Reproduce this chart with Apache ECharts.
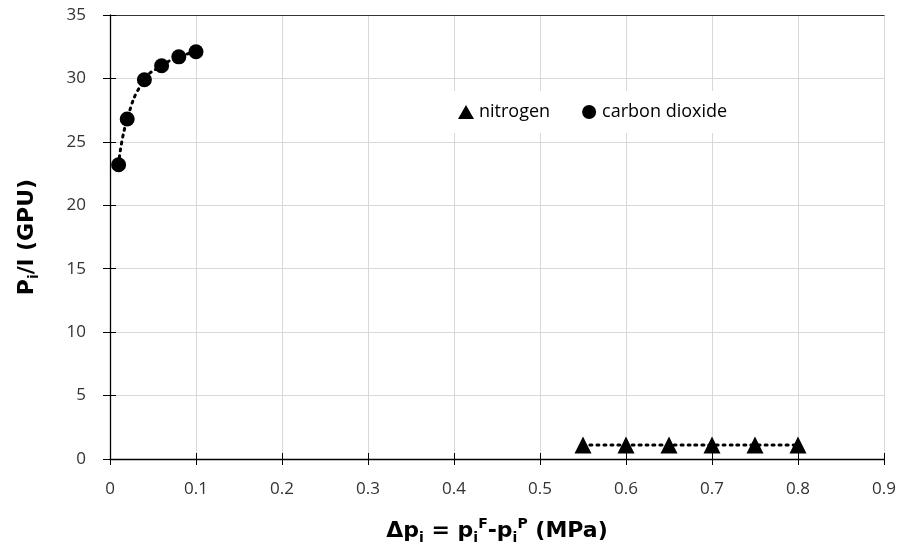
<!DOCTYPE html>
<html><head><meta charset="utf-8">
<script src="https://cdn.jsdelivr.net/npm/echarts@6/dist/echarts.min.js"></script>
<style>html,body{margin:0;padding:0;background:#fff}#c{width:901px;height:544px}</style>
</head><body><div id="c"></div>
<script>
const co2X = [0.01, 0.02, 0.04, 0.06, 0.08, 0.10];
const co2Y = [23.2, 26.8, 29.9, 31.0, 31.7, 32.1];
const n2X = [0.55, 0.60, 0.65, 0.70, 0.75, 0.80];
const n2Y = [1.1, 1.1, 1.1, 1.1, 1.1, 1.1];
const xTicks = [0, 0.1, 0.2, 0.3, 0.4, 0.5, 0.6, 0.7, 0.8, 0.9];
const yTicks = [0, 5, 10, 15, 20, 25, 30, 35];

const font = '"Open Sans", sans-serif';
const tfont = '"DejaVu Sans", sans-serif';
const chart = echarts.init(document.getElementById('c'));
const pair = (xs, ys) => xs.map((x, i) => [x, ys[i]]);
const richT = {
  b: {fontSize: 22, fontWeight: 'bold', color: '#000', fontFamily: tfont, lineHeight: 28, verticalAlign: 'middle'},
  s: {fontSize: 14, fontWeight: 'bold', color: '#000', fontFamily: tfont, lineHeight: 15, verticalAlign: 'bottom'},
  p: {fontSize: 14, fontWeight: 'bold', color: '#000', fontFamily: tfont, lineHeight: 15, verticalAlign: 'top'}
};
chart.setOption({
  animation: false,
  textStyle: {fontFamily: font},
  grid: {left: 110, right: 17, top: 15, bottom: 85, containLabel: false, outerBoundsMode: 'none'},
  legend: {
    left: 448, top: 91, itemGap: 32, itemWidth: 16, itemHeight: 14,
    padding: [12, 10], backgroundColor: '#fff',
    textStyle: {fontSize: 18, color: '#000', fontFamily: font},
    data: [{name: 'nitrogen', icon: 'triangle'}, {name: 'carbon dioxide', icon: 'circle'}]
  },
  xAxis: [{
    type: 'value', min: 0, max: 0.9, interval: 0.1,
    axisLine: {lineStyle: {color: '#000', width: 1.3}},
    axisTick: {show: true, length: 6, lineStyle: {color: '#000'}},
    axisLabel: {fontSize: 17, color: '#333', margin: 22, fontFamily: font,
      formatter: v => xTicks.includes(Math.round(v*10)/10) ? String(Math.round(v*10)/10) : ''},
    splitLine: {show: true, lineStyle: {color: '#d9d9d9'}},
    name: '{b|Δp}{s|i}{b| = p}{s|i}{p|F}{b|-p}{s|i}{p|P}{b| (MPa)}',
    nameLocation: 'middle', nameGap: 58,
    nameTextStyle: {rich: richT}
  }, {
    type: 'value', min: 0, max: 0.9, interval: 0.1, position: 'bottom',
    axisLine: {show: false}, axisLabel: {show: false}, splitLine: {show: false},
    axisTick: {show: true, inside: true, length: 6, lineStyle: {color: '#000'}}
  }, {
    type: 'value', min: 0, max: 0.9, interval: 0.1, position: 'top',
    axisLine: {show: true, lineStyle: {color: '#333', width: 1.2}},
    axisLabel: {show: false}, splitLine: {show: false}, axisTick: {show: false}
  }],
  yAxis: [{
    type: 'value', min: 0, max: 35, interval: 5,
    axisLine: {show: true, lineStyle: {color: '#000', width: 1.3}},
    axisTick: {show: true, length: 7, lineStyle: {color: '#000'}},
    axisLabel: {fontSize: 17, color: '#333', margin: 24, fontFamily: font},
    splitLine: {show: true, lineStyle: {color: '#d9d9d9'}},
    name: '{b|P}{s|i}{b|/l (GPU)}',
    nameLocation: 'middle', nameGap: 69, nameRotate: 90,
    nameTextStyle: {rich: richT}
  }, {
    type: 'value', min: 0, max: 35, interval: 5, position: 'left',
    axisLine: {show: false}, axisLabel: {show: false}, splitLine: {show: false},
    axisTick: {show: true, inside: true, length: 6, lineStyle: {color: '#000'}}
  }],
  series: [{
    name: 'nitrogen', type: 'line', data: pair(n2X, n2Y),
    symbol: 'triangle', symbolSize: 17, smooth: true,
    itemStyle: {color: '#000'},
    lineStyle: {color: '#000', width: 3, type: [2, 5], cap: 'round'}
  }, {
    name: 'carbon dioxide', type: 'line', data: pair(co2X, co2Y),
    symbol: 'circle', symbolSize: 15, smooth: true,
    itemStyle: {color: '#000'},
    lineStyle: {color: '#000', width: 3, type: [2, 5], cap: 'round'}
  }]
});
</script></body></html>
